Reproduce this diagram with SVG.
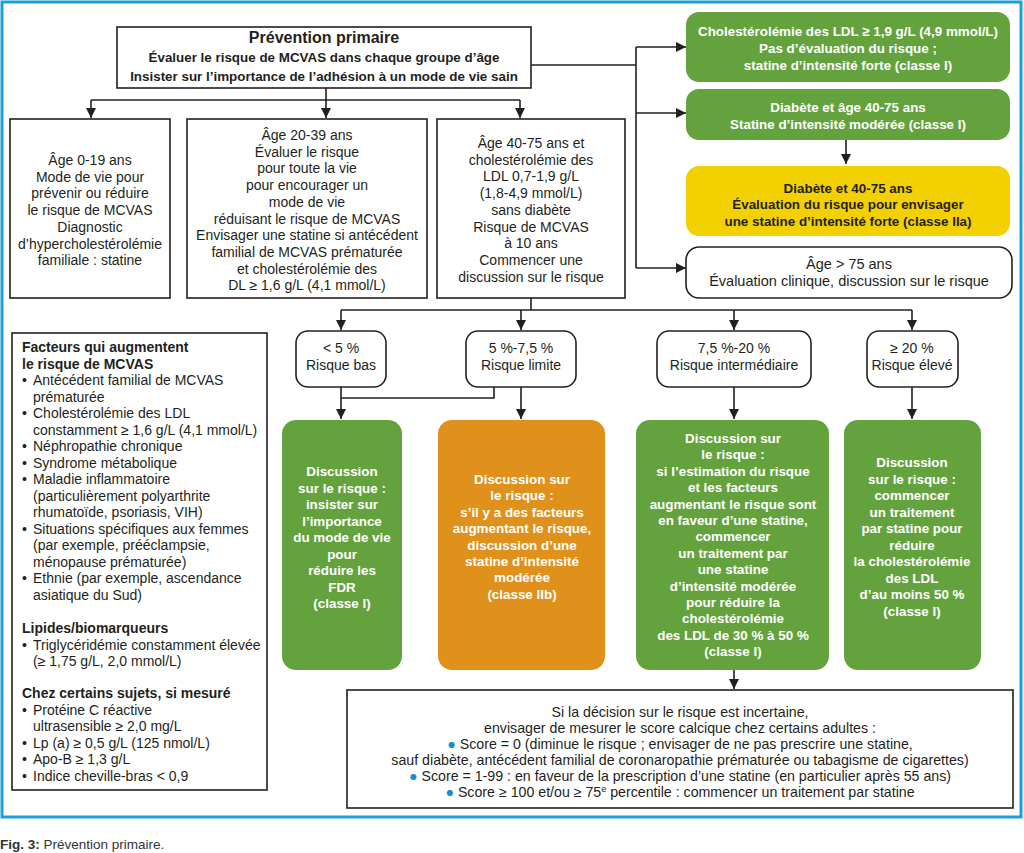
<svg xmlns="http://www.w3.org/2000/svg" width="1024" height="853" viewBox="0 0 1024 853">
<defs>
<style>
.frame{fill:none;stroke:#1ba0da;stroke-width:3}
.box{fill:#fff;stroke:#231f20;stroke-width:1.6}
.g{fill:#64a23e}
.o{fill:#e0911c}
.y{fill:#f3d100}
.conn{fill:none;stroke:#231f20;stroke-width:1.6}
text{font-family:'Liberation Sans',Arial,sans-serif;fill:#231f20}
.c{font-size:14px;text-anchor:middle}
.cb{font-size:13.4px;text-anchor:middle;font-weight:bold}
.w{font-size:13.4px;text-anchor:middle;font-weight:bold;fill:#fff}
.wd{font-size:13.4px;text-anchor:middle;font-weight:bold;fill:#231f20}
.l{font-size:14px}
.lb{font-size:14px;font-weight:bold}
.blue{fill:#1a8ccc}
</style>
<marker id="arr" markerUnits="userSpaceOnUse" markerWidth="10" markerHeight="10" refX="10" refY="5" orient="auto">
<path d="M0,0 L10,5 L0,10 z" fill="#231f20"/>
</marker>
</defs>
<rect x="0" y="0" width="1024" height="853" fill="#fff"/>
<rect class="frame" x="2" y="2" width="1019" height="815"/>

<g id="connectors">
<path class="conn" d="M326,88 V118" marker-end="url(#arr)"/>
<path class="conn" d="M91,100 H520"/>
<path class="conn" d="M91,100 V118" marker-end="url(#arr)"/>
<path class="conn" d="M520,100 V118" marker-end="url(#arr)"/>
<path class="conn" d="M531,65 H636"/>
<path class="conn" d="M636,47 V268"/>
<path class="conn" d="M636,47 H686" marker-end="url(#arr)"/>
<path class="conn" d="M636,113 H686" marker-end="url(#arr)"/>
<path class="conn" d="M636,268 H686" marker-end="url(#arr)"/>
<path class="conn" d="M846,140 V164" marker-end="url(#arr)"/>
<path class="conn" d="M531,298 V310"/>
<path class="conn" d="M341,310 H912"/>
<path class="conn" d="M341,310 V330" marker-end="url(#arr)"/>
<path class="conn" d="M521,310 V330" marker-end="url(#arr)"/>
<path class="conn" d="M734,310 V330" marker-end="url(#arr)"/>
<path class="conn" d="M912,310 V330" marker-end="url(#arr)"/>
<path class="conn" d="M341,387 V419" marker-end="url(#arr)"/>
<path class="conn" d="M494,387 V398 H341"/>
<path class="conn" d="M521,387 V419" marker-end="url(#arr)"/>
<path class="conn" d="M734,387 V419" marker-end="url(#arr)"/>
<path class="conn" d="M912,387 V419" marker-end="url(#arr)"/>
<path class="conn" d="M734,670 V689" marker-end="url(#arr)"/>
</g>

<g id="top">
<rect class="box" x="117" y="27" width="414" height="61"/>
<text class="cb" x="324" y="43" style="font-size:16px">Prévention primaire</text>
<text class="cb" x="324" y="61.5">Évaluer le risque de MCVAS dans chaque groupe d’âge</text>
<text class="cb" x="324" y="80.5">Insister sur l’importance de l’adhésion à un mode de vie sain</text>
</g>

<g id="age0-19">
<rect class="box" x="10" y="119" width="160" height="179"/>
<text class="c" y="165"><tspan x="90">Âge 0-19 ans</tspan><tspan x="90" dy="16.7">Mode de vie pour</tspan><tspan x="90" dy="16.7">prévenir ou réduire</tspan><tspan x="90" dy="16.7">le risque de MCVAS</tspan><tspan x="90" dy="16.7">Diagnostic</tspan><tspan x="90" dy="16.7">d’hypercholestérolémie</tspan><tspan x="90" dy="16.7">familiale : statine</tspan></text>
</g>

<g id="age20-39">
<rect class="box" x="187" y="119" width="240" height="179"/>
<text class="c" y="140"><tspan x="307">Âge 20-39 ans</tspan><tspan x="307" dy="16.7">Évaluer le risque</tspan><tspan x="307" dy="16.7">pour toute la vie</tspan><tspan x="307" dy="16.7">pour encourager un</tspan><tspan x="307" dy="16.7">mode de vie</tspan><tspan x="307" dy="16.7">réduisant le risque de MCVAS</tspan><tspan x="307" dy="16.7">Envisager une statine si antécédent</tspan><tspan x="307" dy="16.7">familial de MCVAS prématurée</tspan><tspan x="307" dy="16.7">et cholestérolémie des</tspan><tspan x="307" dy="16.7">DL ≥ 1,6 g/L (4,1 mmol/L)</tspan></text>
</g>

<g id="age40-75">
<rect class="box" x="437" y="119" width="188" height="179"/>
<text class="c" y="148"><tspan x="531">Âge 40-75 ans et</tspan><tspan x="531" dy="16.7">cholestérolémie des</tspan><tspan x="531" dy="16.7">LDL 0,7-1,9 g/L</tspan><tspan x="531" dy="16.7">(1,8-4,9 mmol/L)</tspan><tspan x="531" dy="16.7">sans diabète</tspan><tspan x="531" dy="16.7">Risque de MCVAS</tspan><tspan x="531" dy="16.7">à 10 ans</tspan><tspan x="531" dy="16.7">Commencer une</tspan><tspan x="531" dy="16.7">discussion sur le risque</tspan></text>
</g>

<g id="ldl190">
<rect class="g" x="686" y="12" width="324" height="70" rx="13"/>
<text class="w" y="35.5"><tspan x="848">Cholestérolémie des LDL ≥ 1,9 g/L (4,9 mmol/L)</tspan><tspan x="848" dy="17">Pas d’évaluation du risque ;</tspan><tspan x="848" dy="17">statine d’intensité forte (classe I)</tspan></text>
</g>

<g id="diabete">
<rect class="g" x="686" y="89" width="324" height="51" rx="13"/>
<text class="w" y="111.5"><tspan x="848">Diabète et âge 40-75 ans</tspan><tspan x="848" dy="17">Statine d’intensité modérée (classe I)</tspan></text>
</g>

<g id="diabete-risque">
<rect class="y" x="686" y="166" width="324" height="70" rx="13"/>
<text class="wd" y="192.5"><tspan x="848">Diabète et 40-75 ans</tspan><tspan x="848" dy="16.5">Évaluation du risque pour envisager</tspan><tspan x="848" dy="16.5">une statine d’intensité forte (classe IIa)</tspan></text>
</g>

<g id="age75">
<rect class="box" x="686" y="247" width="326" height="51" rx="13"/>
<text class="c" y="268.5" style="font-size:14.5px"><tspan x="849">Âge &gt; 75 ans</tspan><tspan x="849" dy="17">Évaluation clinique, discussion sur le risque</tspan></text>
</g>

<g id="facteurs">
<rect class="box" x="12" y="333" width="255" height="457"/>
<text class="lb" x="22" y="352">Facteurs qui augmentent</text>
<text class="lb" x="22" y="368.5">le risque de MCVAS</text>
<text class="l"><tspan x="22" y="385">•</tspan><tspan x="33" y="385">Antécédent familial de MCVAS</tspan><tspan x="33" y="401.5">prématurée</tspan><tspan x="22" y="418">•</tspan><tspan x="33" y="418">Cholestérolémie des LDL</tspan><tspan x="33" y="434.5">constamment ≥ 1,6 g/L (4,1 mmol/L)</tspan><tspan x="22" y="451">•</tspan><tspan x="33" y="451">Néphropathie chronique</tspan><tspan x="22" y="467.5">•</tspan><tspan x="33" y="467.5">Syndrome métabolique</tspan><tspan x="22" y="484">•</tspan><tspan x="33" y="484">Maladie inflammatoire</tspan><tspan x="33" y="500.5">(particulièrement polyarthrite</tspan><tspan x="33" y="517">rhumatoïde, psoriasis, VIH)</tspan><tspan x="22" y="533.5">•</tspan><tspan x="33" y="533.5">Situations spécifiques aux femmes</tspan><tspan x="33" y="550">(par exemple, prééclampsie,</tspan><tspan x="33" y="566.5">ménopause prématurée)</tspan><tspan x="22" y="583">•</tspan><tspan x="33" y="583">Ethnie (par exemple, ascendance</tspan><tspan x="33" y="599.5">asiatique du Sud)</tspan></text>
<text class="lb" x="22" y="633">Lipides/biomarqueurs</text>
<text class="l"><tspan x="22" y="649.5">•</tspan><tspan x="33" y="649.5">Triglycéridémie constamment élevée</tspan><tspan x="33" y="666">(≥ 1,75 g/L, 2,0 mmol/L)</tspan></text>
<text class="lb" x="22" y="698">Chez certains sujets, si mesuré</text>
<text class="l"><tspan x="22" y="714.5">•</tspan><tspan x="33" y="714.5">Protéine C réactive</tspan><tspan x="33" y="731">ultrasensible ≥ 2,0 mg/L</tspan><tspan x="22" y="747.5">•</tspan><tspan x="33" y="747.5">Lp (a) ≥ 0,5 g/L (125 nmol/L)</tspan><tspan x="22" y="764">•</tspan><tspan x="33" y="764">Apo-B ≥ 1,3 g/L</tspan><tspan x="22" y="780.5">•</tspan><tspan x="33" y="780.5">Indice cheville-bras &lt; 0,9</tspan></text>
</g>

<g id="risque-bas">
<rect class="box" x="296" y="331" width="90" height="56" rx="12"/>
<text class="c" y="352.5"><tspan x="341">&lt; 5 %</tspan><tspan x="341" dy="17">Risque bas</tspan></text>
</g>
<g id="risque-limite">
<rect class="box" x="466" y="331" width="110" height="56" rx="12"/>
<text class="c" y="352.5"><tspan x="521">5 %-7,5 %</tspan><tspan x="521" dy="17">Risque limite</tspan></text>
</g>
<g id="risque-intermediaire">
<rect class="box" x="657" y="331" width="154" height="56" rx="12"/>
<text class="c" y="352.5"><tspan x="734">7,5 %-20 %</tspan><tspan x="734" dy="17">Risque intermédiaire</tspan></text>
</g>
<g id="risque-eleve">
<rect class="box" x="867" y="331" width="91" height="56" rx="12"/>
<text class="c" y="352.5"><tspan x="912">≥ 20 %</tspan><tspan x="912" dy="17">Risque élevé</tspan></text>
</g>

<g id="action-bas">
<rect class="g" x="282" y="420" width="120" height="250" rx="14"/>
<text class="w" y="476"><tspan x="342">Discussion</tspan><tspan x="342" dy="16.5">sur le risque :</tspan><tspan x="342" dy="16.5">insister sur</tspan><tspan x="342" dy="16.5">l’importance</tspan><tspan x="342" dy="16.5">du mode de vie</tspan><tspan x="342" dy="16.5">pour</tspan><tspan x="342" dy="16.5">réduire les</tspan><tspan x="342" dy="16.5">FDR</tspan><tspan x="342" dy="16.5">(classe I)</tspan></text>
</g>

<g id="action-limite">
<rect class="o" x="438" y="420" width="167" height="250" rx="14"/>
<text class="w" y="484"><tspan x="522">Discussion sur</tspan><tspan x="522" dy="16.4">le risque :</tspan><tspan x="522" dy="16.4">s’il y a des facteurs</tspan><tspan x="522" dy="16.4">augmentant le risque,</tspan><tspan x="522" dy="16.4">discussion d’une</tspan><tspan x="522" dy="16.4">statine d’intensité</tspan><tspan x="522" dy="16.4">modérée</tspan><tspan x="522" dy="16.4">(classe IIb)</tspan></text>
</g>

<g id="action-intermediaire">
<rect class="g" x="636" y="420" width="193" height="250" rx="14"/>
<text class="w" y="443"><tspan x="733">Discussion sur</tspan><tspan x="733" dy="16.4">le risque :</tspan><tspan x="733" dy="16.4">si l’estimation du risque</tspan><tspan x="733" dy="16.4">et les facteurs</tspan><tspan x="733" dy="16.4">augmentant le risque sont</tspan><tspan x="733" dy="16.4">en faveur d’une statine,</tspan><tspan x="733" dy="16.4">commencer</tspan><tspan x="733" dy="16.4">un traitement par</tspan><tspan x="733" dy="16.4">une statine</tspan><tspan x="733" dy="16.4">d’intensité modérée</tspan><tspan x="733" dy="16.4">pour réduire la</tspan><tspan x="733" dy="16.4">cholestérolémie</tspan><tspan x="733" dy="16.4">des LDL de 30 % à 50 %</tspan><tspan x="733" dy="16.4">(classe I)</tspan></text>
</g>

<g id="action-eleve">
<rect class="g" x="844" y="420" width="137" height="250" rx="14"/>
<text class="w" y="467"><tspan x="912">Discussion</tspan><tspan x="912" dy="16.55">sur le risque :</tspan><tspan x="912" dy="16.55">commencer</tspan><tspan x="912" dy="16.55">un traitement</tspan><tspan x="912" dy="16.55">par statine pour</tspan><tspan x="912" dy="16.55">réduire</tspan><tspan x="912" dy="16.55">la cholestérolémie</tspan><tspan x="912" dy="16.55">des LDL</tspan><tspan x="912" dy="16.55">d’au moins 50 %</tspan><tspan x="912" dy="16.55">(classe I)</tspan></text>
</g>

<g id="score-calcique">
<rect class="box" x="347" y="690" width="666" height="118"/>
<text class="c" style="font-size:14.2px" y="716.5"><tspan x="680">Si la décision sur le risque est incertaine,</tspan><tspan x="680" dy="16">envisager de mesurer le score calcique chez certains adultes :</tspan><tspan x="680" dy="16"><tspan class="blue">●</tspan> Score = 0 (diminue le risque ; envisager de ne pas prescrire une statine,</tspan><tspan x="680" dy="16">sauf diabète, antécédent familial de coronaropathie prématurée ou tabagisme de cigarettes)</tspan><tspan x="680" dy="16"><tspan class="blue">●</tspan> Score = 1-99 : en faveur de la prescription d’une statine (en particulier après 55 ans)</tspan><tspan x="680" dy="16"><tspan class="blue">●</tspan> Score ≥ 100 et/ou ≥ 75<tspan baseline-shift="super" style="font-size:9px">e</tspan> percentile : commencer un traitement par statine</tspan></text>
</g>

<g id="caption">
<text x="0" y="849" style="font-size:13.5px;fill:#333"><tspan font-weight="bold">Fig. 3:</tspan> Prévention primaire.</text>
</g>
</svg>
